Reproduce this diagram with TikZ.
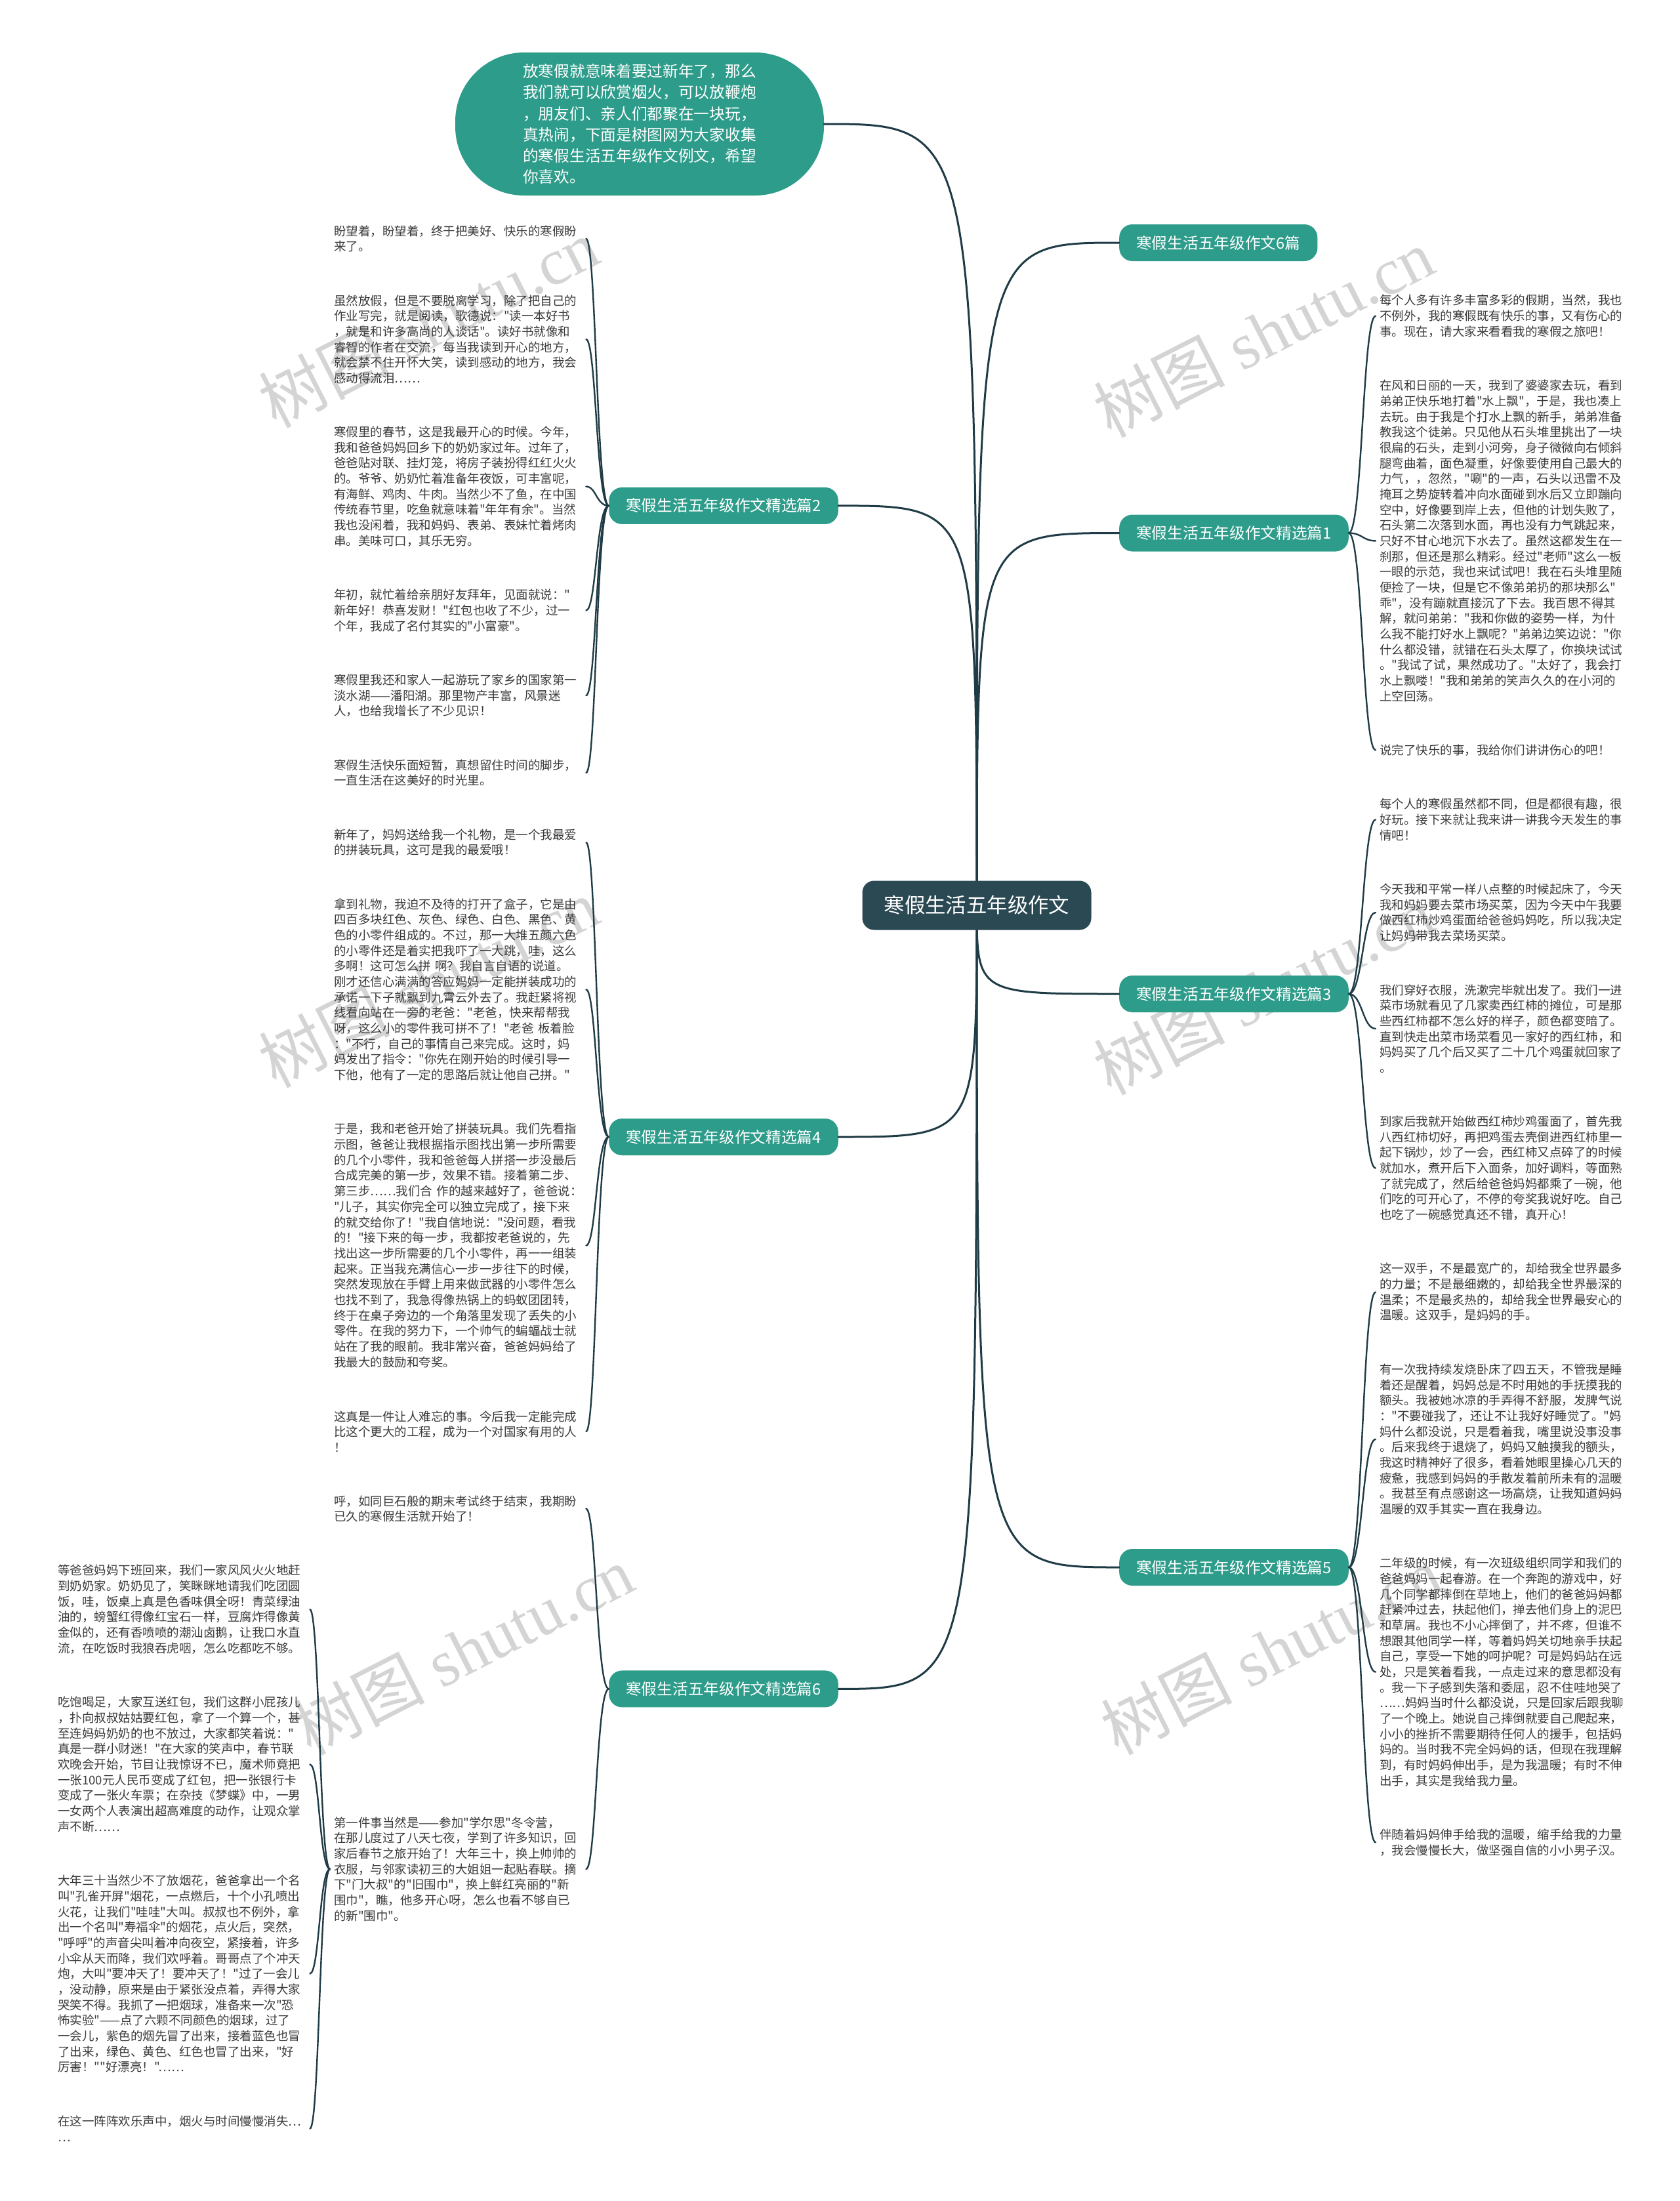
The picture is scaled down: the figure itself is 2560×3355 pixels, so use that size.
\documentclass[tikz,border=0pt]{standalone}
\usepackage{fontspec}
\newfontfamily\cjk{Noto Sans CJK SC}
\newfontfamily\wmfont{Liberation Serif}
\definecolor{tealc}{HTML}{2E9C8A}
\definecolor{rootc}{HTML}{2B4953}
\definecolor{linec}{HTML}{1F3B45}
\definecolor{leaftxt}{HTML}{3A3A3A}
\definecolor{wmc}{HTML}{D4D4D4}
\begin{document}
\begin{tikzpicture}[x=1pt,y=-1pt,
  branch/.style={fill=tealc, rounded corners=20pt, text=white, font=\cjk\fontsize{23.7}{28}\selectfont, minimum height=56pt, inner xsep=26pt, inner ysep=0pt},
  leaf/.style={text=leaftxt, font=\cjk\fontsize{18.5}{23.67}\selectfont, text width=378pt, align=left, inner xsep=6pt, inner ysep=0pt},
  mainc/.style={draw=linec, line width=3pt, line cap=round},
  subc/.style={draw=linec, line width=2.4pt, line cap=round},
  wmk/.style={text=wmc, font=\cjk\fontsize{100}{110}\selectfont, rotate=27}]
\useasboundingbox (0,0) rectangle (2560,3355);
\fill[white] (0,0) rectangle (2560,3355);

% watermarks
\node[wmk] (w1) at (653,492) {树图\hspace{0.25em}{\wmfont shutu.cn}};
\node[wmk] (w2) at (1926,507) {树图\hspace{0.25em}{\wmfont shutu.cn}};
\node[wmk] (w3) at (653,1498) {树图\hspace{0.25em}{\wmfont shutu.cn}};
\node[wmk] (w4) at (1926,1509) {树图\hspace{0.25em}{\wmfont shutu.cn}};
\node[wmk] (w5) at (706,2515) {树图\hspace{0.25em}{\wmfont shutu.cn}};
\node[wmk] (w6) at (1937,2515) {树图\hspace{0.25em}{\wmfont shutu.cn}};

\coordinate (A) at (1489,1380);
\coordinate (kR) at (2077,0);
\coordinate (kL) at (909,0);
\coordinate (kF) at (487,0);

% intro bubble
\node[fill=tealc, rounded corners=105pt, minimum width=562pt, minimum height=218pt, text=white,
  font=\cjk\fontsize{23.7}{32.1}\selectfont, align=left, inner sep=0pt] (intro) at (975,189)
  {放寒假就意味着要过新年了，那么\\我们就可以欣赏烟火，可以放鞭炮\\，朋友们、亲人们都聚在一块玩，\\真热闹，下面是树图网为大家收集\\的寒假生活五年级作文例文，希望\\你喜欢。};

% branches
\node[branch, anchor=west] (b6) at (1706,370) {寒假生活五年级作文6篇};
\node[branch, anchor=west] (p1) at (1706,812.5) {寒假生活五年级作文精选篇1};
\node[branch, anchor=west] (p3) at (1706,1515) {寒假生活五年级作文精选篇3};
\node[branch, anchor=west] (p5) at (1706,2389) {寒假生活五年级作文精选篇5};
\node[branch, anchor=east] (p2) at (1278,770.9) {寒假生活五年级作文精选篇2};
\node[branch, anchor=east] (p4) at (1278,1733) {寒假生活五年级作文精选篇4};
\node[branch, anchor=east] (p6) at (1278,2574.4) {寒假生活五年级作文精选篇6};

% right leaves
\node[leaf, anchor=west] (r1a) at (2097,481.7) {每个人多有许多丰富多彩的假期，当然，我也\\不例外，我的寒假既有快乐的事，又有伤心的\\事。现在，请大家来看看我的寒假之旅吧！};
\node[leaf, anchor=west] (r1b) at (2097,824.4) {在风和日丽的一天，我到了婆婆家去玩，看到\\弟弟正快乐地打着"水上飘"，于是，我也凑上\\去玩。由于我是个打水上飘的新手，弟弟准备\\教我这个徒弟。只见他从石头堆里挑出了一块\\很扁的石头，走到小河旁，身子微微向右倾斜\\腿弯曲着，面色凝重，好像要使用自己最大的\\力气，，忽然，"唰"的一声，石头以迅雷不及\\掩耳之势旋转着冲向水面碰到水后又立即蹦向\\空中，好像要到岸上去，但他的计划失败了，\\石头第二次落到水面，再也没有力气跳起来，\\只好不甘心地沉下水去了。虽然这都发生在一\\刹那，但还是那么精彩。经过"老师"这么一板\\一眼的示范，我也来试试吧！我在石头堆里随\\便捡了一块，但是它不像弟弟扔的那块那么"\\乖"，没有蹦就直接沉了下去。我百思不得其\\解，就问弟弟："我和你做的姿势一样，为什\\么我不能打好水上飘呢？"弟弟边笑边说："你\\什么都没错，就错在石头太厚了，你换块试试\\。"我试了试，果然成功了。"太好了，我会打\\水上飘喽！"我和弟弟的笑声久久的在小河的\\上空回荡。};
\node[leaf, anchor=west] (r1c) at (2097,1143.4) {说完了快乐的事，我给你们讲讲伤心的吧！};

\node[leaf, anchor=west] (r3a) at (2097,1249.4) {每个人的寒假虽然都不同，但是都很有趣，很\\好玩。接下来就让我来讲一讲我今天发生的事\\情吧！};
\node[leaf, anchor=west] (r3b) at (2097,1391.0) {今天我和平常一样八点整的时候起床了，今天\\我和妈妈要去菜市场买菜，因为今天中午我要\\做西红柿炒鸡蛋面给爸爸妈妈吃，所以我决定\\让妈妈带我去菜场买菜。};
\node[leaf, anchor=west] (r3c) at (2097,1568.0) {我们穿好衣服，洗漱完毕就出发了。我们一进\\菜市场就看见了几家卖西红柿的摊位，可是那\\些西红柿都不怎么好的样子，颜色都变暗了。\\直到快走出菜市场菜看见一家好的西红柿，和\\妈妈买了几个后又买了二十几个鸡蛋就回家了\\。};
\node[leaf, anchor=west] (r3d) at (2097,1780.6) {到家后我就开始做西红柿炒鸡蛋面了，首先我\\八西红柿切好，再把鸡蛋去壳倒进西红柿里一\\起下锅炒，炒了一会，西红柿又点碎了的时候\\就加水，煮开后下入面条，加好调料，等面熟\\了就完成了，然后给爸爸妈妈都乘了一碗，他\\们吃的可开心了，不停的夸奖我说好吃。自己\\也吃了一碗感觉真还不错，真开心！};

\node[leaf, anchor=west] (r5a) at (2097,1969.5) {这一双手，不是最宽广的，却给我全世界最多\\的力量；不是最细嫩的，却给我全世界最深的\\温柔；不是最炙热的，却给我全世界最安心的\\温暖。这双手，是妈妈的手。};
\node[leaf, anchor=west] (r5b) at (2097,2193.9) {有一次我持续发烧卧床了四五天，不管我是睡\\着还是醒着，妈妈总是不时用她的手抚摸我的\\额头。我被她冰凉的手弄得不舒服，发脾气说\\："不要碰我了，还让不让我好好睡觉了。"妈\\妈什么都没说，只是看着我，嘴里说没事没事\\。后来我终于退烧了，妈妈又触摸我的额头，\\我这时精神好了很多，看着她眼里操心几天的\\疲惫，我感到妈妈的手散发着前所未有的温暖\\。我甚至有点感谢这一场高烧，让我知道妈妈\\温暖的双手其实一直在我身边。};
\node[leaf, anchor=west] (r5c) at (2097,2548.5) {二年级的时候，有一次班级组织同学和我们的\\爸爸妈妈一起春游。在一个奔跑的游戏中，好\\几个同学都摔倒在草地上，他们的爸爸妈妈都\\赶紧冲过去，扶起他们，掸去他们身上的泥巴\\和草屑。我也不小心摔倒了，并不疼，但谁不\\想跟其他同学一样，等着妈妈关切地亲手扶起\\自己，享受一下她的呵护呢？可是妈妈站在远\\处，只是笑着看我，一点走过来的意思都没有\\。我一下子感到失落和委屈，忍不住哇地哭了\\……妈妈当时什么都没说，只是回家后跟我聊\\了一个晚上。她说自己摔倒就要自己爬起来，\\小小的挫折不需要期待任何人的援手，包括妈\\妈的。当时我不完全妈妈的话，但现在我理解\\到，有时妈妈伸出手，是为我温暖；有时不伸\\出手，其实是我给我力量。};
\node[leaf, anchor=west] (r5d) at (2097,2808.4) {伴随着妈妈伸手给我的温暖，缩手给我的力量\\，我会慢慢长大，做坚强自信的小小男子汉。};

% left leaves
\node[leaf, anchor=west] (l2a) at (503,363.8) {盼望着，盼望着，终于把美好、快乐的寒假盼\\来了。};
\node[leaf, anchor=west] (l2b) at (503,517.2) {虽然放假，但是不要脱离学习，除了把自己的\\作业写完，就是阅读，歌德说："读一本好书\\，就是和许多高尚的人谈话"。读好书就像和\\睿智的作者在交流，每当我读到开心的地方，\\就会禁不住开怀大笑，读到感动的地方，我会\\感动得流泪……};
\node[leaf, anchor=west] (l2c) at (503,741.6) {寒假里的春节，这是我最开心的时候。今年，\\我和爸爸妈妈回乡下的奶奶家过年。过年了，\\爸爸贴对联、挂灯笼，将房子装扮得红红火火\\的。爷爷、奶奶忙着准备年夜饭，可丰富呢，\\有海鲜、鸡肉、牛肉。当然少不了鱼，在中国\\传统春节里，吃鱼就意味着"年年有余"。当然\\我也没闲着，我和妈妈、表弟、表妹忙着烤肉\\串。美味可口，其乐无穷。};
\node[leaf, anchor=west] (l2d) at (503,930.5) {年初，就忙着给亲朋好友拜年，见面就说："\\新年好！恭喜发财！"红包也收了不少，过一\\个年，我成了名付其实的"小富豪"。};
\node[leaf, anchor=west] (l2e) at (503,1060.2) {寒假里我还和家人一起游玩了家乡的国家第一\\淡水湖——潘阳湖。那里物产丰富，风景迷\\人，也给我增长了不少见识！};
\node[leaf, anchor=west] (l2f) at (503,1178.0) {寒假生活快乐面短暂，真想留住时间的脚步，\\一直生活在这美好的时光里。};

\node[leaf, anchor=west] (l4a) at (503,1284.1) {新年了，妈妈送给我一个礼物，是一个我最爱\\的拼装玩具，这可是我的最爱哦！};
\node[leaf, anchor=west] (l4b) at (503,1508.4) {拿到礼物，我迫不及待的打开了盒子，它是由\\四百多块红色、灰色、绿色、白色、黑色、黄\\色的小零件组成的。不过，那一大堆五颜六色\\的小零件还是着实把我吓了一大跳，哇，这么\\多啊！这可怎么拼~啊？我自言自语的说道。\\刚才还信心满满的答应妈妈一定能拼装成功的\\承诺一下子就飘到九霄云外去了。我赶紧将视\\线看向站在一旁的老爸："老爸，快来帮帮我\\呀，这么小的零件我可拼不了！"老爸~板着脸\\："不行，自己的事情自己来完成。这时，妈\\妈发出了指令："你先在刚开始的时候引导一\\下他，他有了一定的思路后就让他自己拼。"};
\node[leaf, anchor=west] (l4c) at (503,1898.5) {于是，我和老爸开始了拼装玩具。我们先看指\\示图，爸爸让我根据指示图找出第一步所需要\\的几个小零件，我和爸爸每人拼搭一步没最后\\合成完美的第一步，效果不错。接着第二步、\\第三步……我们合~作的越来越好了，爸爸说：\\"儿子，其实你完全可以独立完成了，接下来\\的就交给你了！"我自信地说："没问题，看我\\的！"接下来的每一步，我都按老爸说的，先\\找出这一步所需要的几个小零件，再一一组装\\起来。正当我充满信心一步一步往下的时候，\\突然发现放在手臂上用来做武器的小零件怎么\\也找不到了，我急得像热锅上的蚂蚁团团转，\\终于在桌子旁边的一个角落里发现了丢失的小\\零件。在我的努力下，一个帅气的蝙蝠战士就\\站在了我的眼前。我非常兴奋，爸爸妈妈给了\\我最大的鼓励和夸奖。};
\node[leaf, anchor=west] (l4d) at (503,2182.0) {这真是一件让人难忘的事。今后我一定能完成\\比这个更大的工程，成为一个对国家有用的人\\！};

\node[leaf, anchor=west] (l6a) at (503,2299.8) {呼，如同巨石般的期末考试终于结束，我期盼\\已久的寒假生活就开始了！};
\node[leaf, anchor=west] (l6b) at (503,2849.0) {第一件事当然是——参加"学尔思"冬令营，\\在那儿度过了八天七夜，学到了许多知识，回\\家后春节之旅开始了！大年三十，换上帅帅的\\衣服，与邻家读初三的大姐姐一起贴春联。摘\\下"门大叔"的"旧围巾"，换上鲜红亮丽的"新\\围巾"，瞧，他多开心呀，怎么也看不够自已\\的新"围巾"。};

% far-left leaves
\node[leaf, anchor=west] (f1) at (82,2453.2) {等爸爸妈妈下班回来，我们一家风风火火地赶\\到奶奶家。奶奶见了，笑眯眯地请我们吃团圆\\饭，哇，饭桌上真是色香味俱全呀！青菜绿油\\油的，螃蟹红得像红宝石一样，豆腐炸得像黄\\金似的，还有香喷喷的潮汕卤鹅，让我口水直\\流，在吃饭时我狼吞虎咽，怎么吃都吃不够。};
\node[leaf, anchor=west] (f2) at (82,2689.4) {吃饱喝足，大家互送红包，我们这群小屁孩儿\\，扑向叔叔姑姑要红包，拿了一个算一个，甚\\至连妈妈奶奶的也不放过，大家都笑着说："\\真是一群小财迷！"在大家的笑声中，春节联\\欢晚会开始，节目让我惊讶不已，魔术师竟把\\一张100元人民币变成了红包，把一张银行卡\\变成了一张火车票；在杂技《梦蝶》中，一男\\一女两个人表演出超高难度的动作，让观众掌\\声不断……};
\node[leaf, anchor=west] (f3) at (82,3008.5) {大年三十当然少不了放烟花，爸爸拿出一个名\\叫"孔雀开屏"烟花，一点燃后，十个小孔喷出\\火花，让我们"哇哇"大叫。叔叔也不例外，拿\\出一个名叫"寿福伞"的烟花，点火后，突然，\\"呼呼"的声音尖叫着冲向夜空，紧接着，许多\\小伞从天而降，我们欢呼着。哥哥点了个冲天\\炮，大叫"要冲天了！要冲天了！"过了一会儿\\，没动静，原来是由于紧张没点着，弄得大家\\哭笑不得。我抓了一把烟球，准备来一次"恐\\怖实验"——点了六颗不同颜色的烟球，过了\\一会儿，紫色的烟先冒了出来，接着蓝色也冒\\了出来，绿色、黄色、红色也冒了出来，"好\\厉害！""好漂亮！"……};
\node[leaf, anchor=west] (f4) at (82,3244.7) {在这一阵阵欢乐声中，烟火与时间慢慢消失…\\…};

% main connectors
\foreach \b in {b6,p1,p3,p5}
  \draw[mainc] (A) .. controls (A |- \b.west) and (A |- \b.west) .. (\b.west);
\foreach \b in {p2,p4,p6,intro}
  \draw[mainc] (A) .. controls (A |- \b.east) and (A |- \b.east) .. (\b.east);

% sub connectors right
\foreach \l in {r1a,r1b,r1c}
  \draw[subc] (p1.east) .. controls (kR |- p1.east) and (kR |- \l.west) .. (\l.west);
\foreach \l in {r3a,r3b,r3c,r3d}
  \draw[subc] (p3.east) .. controls (kR |- p3.east) and (kR |- \l.west) .. (\l.west);
\foreach \l in {r5a,r5b,r5c,r5d}
  \draw[subc] (p5.east) .. controls (kR |- p5.east) and (kR |- \l.west) .. (\l.west);
% sub connectors left
\foreach \l in {l2a,l2b,l2c,l2d,l2e,l2f}
  \draw[subc] (p2.west) .. controls (kL |- p2.west) and (kL |- \l.east) .. (\l.east);
\foreach \l in {l4a,l4b,l4c,l4d}
  \draw[subc] (p4.west) .. controls (kL |- p4.west) and (kL |- \l.east) .. (\l.east);
\foreach \l in {l6a,l6b}
  \draw[subc] (p6.west) .. controls (kL |- p6.west) and (kL |- \l.east) .. (\l.east);
\foreach \l in {f1,f2,f3,f4}
  \draw[subc] (l6b.west) .. controls (kF |- l6b.west) and (kF |- \l.east) .. (\l.east);

% root on top
\node[fill=rootc, rounded corners=18pt, text=white, font=\cjk\fontsize{31.4}{36}\selectfont,
  minimum width=349pt, minimum height=75pt, inner sep=0pt] (root) at (A) {寒假生活五年级作文};
\end{tikzpicture}
\end{document}
